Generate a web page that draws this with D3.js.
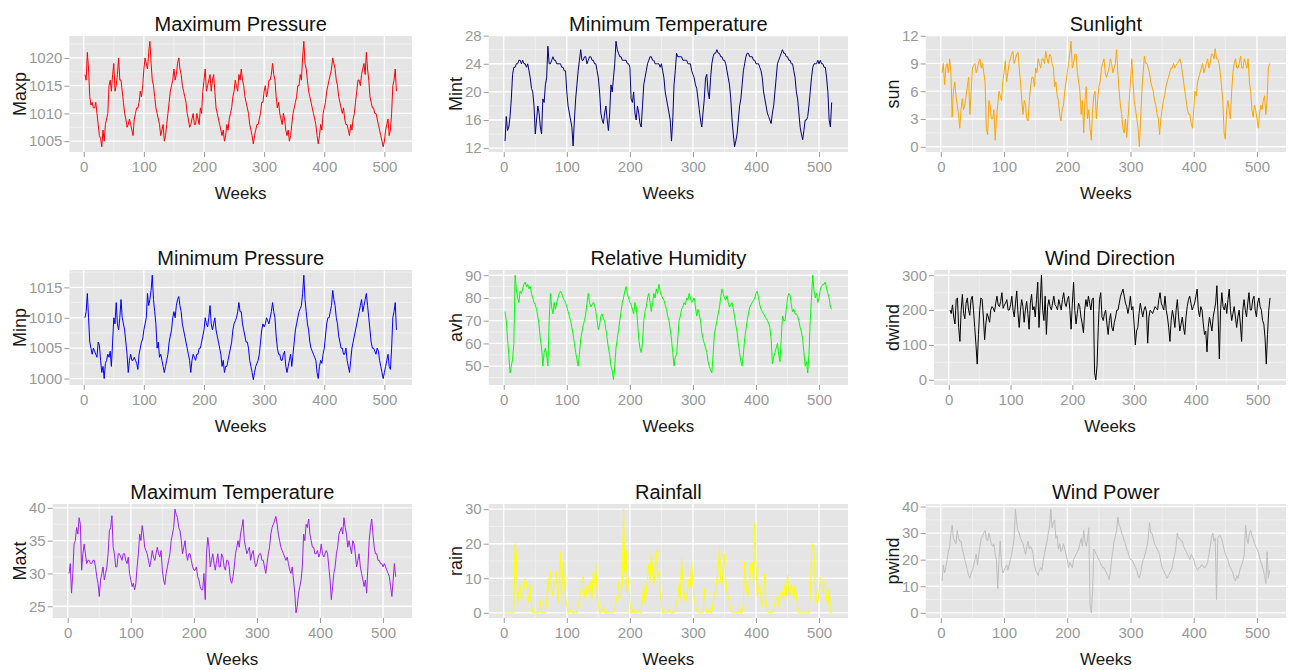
<!DOCTYPE html>
<html>
<head>
<meta charset="utf-8">
<script src="https://cdn.jsdelivr.net/npm/d3@7"></script>
<style>
body { margin: 0; background: #ffffff; }
text { font-family: "Liberation Sans", Arial, sans-serif; }
</style>
</head>
<body>
<svg id="chart" width="1292" height="670"></svg>
<script>
// weekly series, read every 2nd week off the picture (weeks 2..520)
var firstWeek = 2, weekStep = 2;

var maxp = [1017,1016,1021,1018,1013,1011.5,1012,1011,1011,1012,1010,1008,1006,1005.5,1004,1007,1005,1008,1009,1010,
	1015,1016,1014,1017,1019,1014,1015,1017,1020,1016,1016,1014,1012,1010,1009,1007.5,1008,1009,1008,1007,
	1006,1009,1010,1011,1011,1012,1014,1013,1015,1018,1020,1019,1018,1021,1023,1019,1016,1015,1013,1011,
	1010,1009,1008,1006,1007,1008,1005,1006,1008,1010,1012,1014,1015,1016,1018,1016,1017,1019,1020,1018,
	1017,1015,1014,1013,1012,1010,1009,1007.5,1008,1009,1010,1008,1008,1010,1009,1008,1011,1010,1014,1016,
	1018,1014,1015,1016,1017,1014,1016,1017,1014,1011,1010,1009,1008,1007,1006,1007,1005,1006,1008,1007,
	1009,1010,1011,1013,1014,1016,1015,1014,1017,1016,1018,1016,1015,1013,1012,1011,1010,1008,1007,1006,
	1004.5,1006,1007,1008,1008,1009,1010,1012,1012,1014,1015,1013,1014,1016,1016,1017,1019,1017,1016,1013,
	1011,1012,1010,1009,1008,1010,1009,1007,1006,1007,1005,1006,1008,1010,1011,1012,1013,1015,1015,1017,
	1016,1020,1023,1019,1018,1016,1014,1013,1012,1011,1010,1009,1008,1006,1004.5,1006,1008,1007,1010,1011,
	1012,1014,1015,1016,1017,1018,1020,1019,1018,1016,1015,1013,1012,1011,1010,1011,1009,1008,1008,1007,
	1006,1008,1007,1009,1010,1012,1014,1016,1016,1015,1017,1018,1019,1017,1021,1018,1016,1013,1012,1011,
	1011,1010,1010,1009,1008,1007,1006,1005,1004,1005,1007,1008,1009,1006,1007,1010,1015,1016,1018,1014];

var mint = [13,16.5,14.5,15,16.5,19,22.5,23.5,23.5,24,24,24.5,24.5,24,24.5,24,24,23.5,24,23,
	22,20.5,20,18,14,16,18,17,15,14,19,18.5,21,22,26.5,24,24,24.5,25,24.5,
	24.5,24,24,24,24,23.5,23.5,23,23,20,18,17,16,15,12.3,16,19,21,23,24.5,
	26,24.5,24.5,25,25,24,24.5,25,25,24.5,24.5,24,24,23,22,20,17,16,15.5,17,
	18,16,14.5,17,21,20,22,24,27.2,26,25.5,25,25,24.5,24.5,24.5,24.5,24,24,23.5,
	19,18.5,20,17,16,18,17,15.5,15,18,21,22,23,24,24.5,25,25,24.5,24.5,24,
	24,24,24,23.5,24,23,22,20,19,18,17,16,13,16,21,23,25.5,25,25,25,
	25,24.5,24.5,24.5,24.5,24,24,24,23,22.5,22,21,20.5,19,17.5,16,15,17,19,22,
	22.5,20,19,22,24,25,25.5,25.5,26,25.5,25.5,25,25,24.5,24.5,24,23,22,21,19,
	16,14,12.2,13,14,16,18,19,21,23,24,25,25.5,25.5,25,25,25,24.5,24.5,24,
	24,24,23.5,23,22,20,19,18,17,16.5,16,15.5,17,18,20,22,24,24.5,25,25.5,
	26,25.5,25.5,25,25,24.5,24.5,24,24,23,22,20,19,17,15,14,13.2,14.5,16,16,
	16.5,18,20,22,23.5,24,24,24,24.5,24,24.5,24,24,23.5,23.5,22,20,16,15,18.5];

var sun = [8,9,6.7,8.5,9,8,9.5,8,3.2,6,7,5.5,4.5,3.5,2,4,5.2,4,4.5,5.5,
	6.5,7.5,3.5,6,8.5,8.8,9,8,8.5,9.2,9.5,8.5,9,8,7,2,1.3,5,4.5,3,
	3,4,0.7,3,4.5,6,5.5,5,7,8,9.3,7,8,9,9.5,10,10.3,9,9.5,10,
	10.2,8.5,7,5,3.5,5,4.5,3,2.8,5,6.5,7.5,7.5,6.5,8.5,8,9.5,9,8.5,9.5,
	9.5,9,10.3,9.5,9,10,9.8,9,8.5,6.5,7,5.5,5,3.5,2.8,4,4.5,6,7,8,
	9,10,11.4,8.5,9,10,10,8,7,6,3.5,5,1.5,5,6.5,3,4,2,0.7,4,
	5.5,6,3,5,6.5,7,8.5,9,9.5,8,7.5,8,8.5,9.5,9,8,8.5,9,10.5,8,
	6,4.5,3.5,2,1.5,3,1,3,5,7,9.5,7,5,4,3,2,0,3,6,8,
	9.8,9,9,8.5,8,7,6.5,6,5,4.5,3.5,3,1.3,3,4,5,5.5,6.5,7,7.5,
	8,8.5,8.5,9,8.5,8.8,9,9.2,9.5,9,8,7,6,5,4,3.5,3.5,2.5,2,4,
	6,5.5,7,7.5,8,8.5,9,8,8.5,9,9.5,8.5,9,10,10,9.5,10.6,9.5,9.5,9,
	8,6.5,5,1.5,0.8,4,5,4,3,6,8,9,9.5,8.5,8.5,9,9.8,8.5,8.5,9.5,
	9,8.5,9.5,7,6,4,3.2,4.5,4,3,2,3.5,4.5,4,5,5.5,3.5,5,8.5,9];

var minp = [1010,1011,1014,1010,1006,1005,1004,1005,1004.5,1004,1003.5,1006,1005.5,1003,1001,1002,1000,1002.5,1003,1004,
	1003.5,1004.5,1002,1006,1010,1009,1012.5,1009,1008,1010,1013,1010,1009,1008,1006,1004,1001,1003,1004,1003,
	1003,1003.5,1003,1002.5,1001.5,1004,1005,1006,1006.5,1008,1009,1010,1014,1012,1013,1014.5,1017,1013,1011,1009,
	1005,1006,1003.5,1004,1003,1002,1001,1002,1003,1004,1006,1007,1008,1010,1011,1010,1012,1013,1013.5,1012,
	1011,1009,1008,1007,1006,1005,1004,1003,1001,1003,1004,1003.5,1003,1004,1004,1005,1005,1006,1007,1008,
	1010,1009,1008.5,1010,1012,1009,1008,1009,1010,1008,1007,1006,1005,1004,1002,1003,1001,1002,1002,1003,
	1004,1005,1006,1008,1009,1009.5,1010,1011,1012.5,1011,1011,1009,1008,1007,1006,1006,1005,1003,1002,1001,
	999.8,1001,1002,1002.5,1003,1004,1006,1008,1009,1008.5,1009,1010,1009.5,1009,1010,1011,1012.5,1011,1010,1007,
	1005,1004,1004,1003,1003,1004,1004.5,1002,1001,1002,1003,1004,1002,1004,1006,1008,1009,1010,1011,1011.5,
	1012,1014,1017,1013,1011,1009,1008,1006,1005,1004.5,1004,1003.5,1003,1001,1000,1002,1003,1002.5,1004,1005,
	1007,1009,1010,1010,1011,1012,1014.5,1013,1012,1010,1009,1007,1006,1005,1005,1004,1004,1005,1003,1002,
	1001,1003,1005,1006,1007,1008,1009,1010,1011,1012,1013,1011,1012,1013,1014,1012,1010,1008,1006,1005,
	1005,1004.5,1004,1005,1004.5,1003,1002,1001,1000,1001,1002,1003,1004,1002,1001.5,1005,1010,1011,1012.5,1008];

var avh = [74,70,62,55,47,50,53,60,90,84,80,78,83,82,84,86,87,85,86,84,
	85,82,80,78,77,75,72,68,62,58,50,56,58,55,50,70,82,76,73,78,
	75,78,80,82,83,82,80,79,78,76,74,72,70,67,64,60,56,53,50,55,
	62,65,68,70,73,78,82,78,76,77,78,77,74,70,66,68,72,73,71,70,
	66,62,58,55,50,48,44,50,58,62,66,70,74,78,80,83,85,82,80,78,
	77,75,73,78,76,70,62,58,56,60,70,74,76,80,82,78,74,78,82,80,
	84,82,86,83,81,80,79,77,75,72,70,66,62,56,50,54,55,62,70,72,
	75,76,78,77,80,79,82,80,78,79,80,76,72,75,73,70,65,62,60,58,
	56,52,50,48,47,55,64,67,70,73,76,80,84,82,80,79,81,78,76,77,
	78,75,72,68,65,60,56,52,50,55,62,66,70,73,76,77,78,79,80,82,
	83,80,77,75,74,73,72,71,70,69,67,62,51,54,56,58,60,55,52,62,
	72,70,70,75,80,82,81,77,74,75,73,73,72,70,67,65,62,56,50,52,
	47,55,70,80,90,83,80,82,78,80,84,85,86,86,87,84,82,80,76,75];

var dwind = [200,190,215,180,160,230,235,150,110,200,245,190,175,220,235,200,185,230,240,200,
	150,100,45,130,200,235,230,180,115,160,190,180,165,200,210,205,195,220,240,215,
	210,225,250,205,215,220,230,200,200,215,240,200,180,220,255,190,150,200,230,210,
	165,200,225,190,145,220,245,200,210,180,230,280,150,220,300,200,170,240,130,210,
	230,210,200,220,240,215,210,200,230,215,200,230,250,220,210,230,240,200,145,220,
	280,200,160,190,220,210,180,160,135,200,230,210,240,220,200,230,235,20,0,40,
	150,230,250,180,170,190,200,160,130,170,190,150,140,165,180,200,200,220,240,250,
	260,240,220,210,190,210,240,200,210,160,100,140,150,190,220,200,180,200,210,195,
	105,180,200,195,190,200,210,205,200,230,250,220,210,200,240,200,180,150,110,170,
	200,180,150,200,230,180,140,160,180,150,130,180,210,230,240,220,200,210,220,240,
	260,200,180,210,200,160,130,140,80,150,180,160,140,180,200,220,270,180,60,200,
	250,210,200,220,190,230,260,200,170,190,210,180,150,180,200,160,110,200,230,200,
	180,220,250,200,200,230,240,200,180,220,235,210,200,170,160,120,45,130,200,235];

var maxt = [30,31.5,27,30,34.5,35,37,36,38.5,37.5,30.5,33,34.5,33,31.5,32,32,31.5,31.5,32,
	32,31,29.5,28.5,26.5,29,30,31,29,30,31,33,36.5,37,38.8,34,33,31,31,33,
	33,32.5,32,33,33,32,31.5,32.5,30,29,28,28.5,27.5,28.5,31,33,36,35,37.3,36,
	34,33.5,33,32,31,32,33.5,32.5,32,33,34,33,32.5,33.5,30.5,29,28.3,30,31,32,
	33,35,36,37,39.8,39,38.5,37,36.5,35,33,34,35,33,32,33,33,32,31,30.5,
	30.5,31,29.5,29,28,27.5,27.5,30,26,33,35.5,34,31,32,33,31.5,30.5,32,33,31,
	31,33,32.5,31,30.5,32,32,31,29,28.5,29.5,31,33,34,35,34,36,37,38.2,35,
	34,33,33.5,34,32,33,33.5,32,31,31.5,32.5,33,33,32,32,31,30,31.5,33,34,
	36,37,37.5,38,38.7,37.5,36,35,34,33.5,33,32.5,32,32.5,31.5,30.5,30,31,29,27,
	24,25,27,28,29,31,36,35,37.5,37,38.3,36,35,34,34,33,33,33.5,32.5,33,
	34.5,33,32.5,33,33.5,33,31,29,26,28,30,31,33,34,36,36.5,37,36,38.5,37,
	36,34,35,34,33,35,34.5,33,31,32,33,31,30,29,28,29,27,31,35,37,
	38.3,36,34,33,33,32,32,31.5,31.5,31,31.5,31,30.5,30,29.5,28,26.5,29,31.5,29.5];

var rain = [0,0,0,0,0,0,0,0,20,17,3,6,8,4,4,7,10,8,6,3,
	8,2,0,0,0,0,0,0,3.5,0,0,0,0,3,10,6,12,7,5,9,
	8,12,3,9,17.5,5,15,9,5,2,0,0,1,0,0,0,0,0,2,4,
	6,9,10.5,5,4,7,8,5,9,4,12,8,14,6,2,0,0,1,2,0,
	0,0,0,0,0,0,0,1,3,5,9,4,5,8,30,12,18,6,10,3,
	0,0,1,0,0,0,1,0,0,4,8,3,6,10,14,9,17,13,8,12,
	18,10,12,6,3,0,0,0,0,0,1,0,0,0,0,1,3,5,8,4,
	16,9,6,3,4,7,10,8,15,8,4,2,1,0,0,0,0,0,7,2,
	0,0,1,0,0,3,5,7,10,12,19.5,9,8,12,17,10,6,5,3,1,
	0,0,0,0,0,0,1,0,0,3,15,9,6,5,9,14,15,8,26,14,
	5,7,8,4,2,5,11.5,3,1,0,0,0,0,1,3,4,5,2,4,6,
	6,4,8,5,11,7,5,8,7,4,8,5,2,0,0,0,0,0,0,0,
	0,0,5,17,20,18,8,3,3,6,10,8,6,9,8,4,2,7,0,0];

var pwind = [12,18,15,17,20,23,25,30,33,28,27,26,31,28,27,27,24,22,20,18,
	16,14,13,15,16,18,20,22,18,22,25,28,29,30,31,28,27,30,28,26,
	25,26,22,20,9,20,27,18,15,16,17,18,16,18,20,22,25,28,39,34,
	31,30,28,27,26,24,22,25,27,24,25,24,22,18,16,15,14,16,17,16,
	20,22,25,27,30,33,39,32,34,35,28,29,24,26,23,24,26,24,22,20,
	17,19,18,17,20,21,22,23,24,26,28,25,31,27,25,28,32,3,0,8,
	24,23,22,21,20,19,18,17,17,16,15,14,12.5,15,20,23,27,29,31,36,
	33,32,30,29,27,26,24,23,21,20,20,19,18,17,16,14,13,15,18,20,
	21,23,25,28,34,30,30,28,26,25,24,23,22,19,17,16,15,14,13,14,
	15,16,17,20,22,25,30,28,28,27,27,25,24,23,22,21,20,22,21,20,
	18,17,16,17,17,18,18,17,17,18,19,22,25,28,30,27,28,5,28,29,
	29,28,26,24,22,21,20,18,17,16,15,13,12,14,13,15,17,18,20,22,
	33,28,26,30,31,29,28,26,25,24,23,21,19,18,16,14,11,23,13,16];

var weekTicks = [0, 100, 200, 300, 400, 500];
var maxpTicks = [1005, 1010, 1015, 1020];
var mintTicks = [12, 16, 20, 24, 28];
var sunTicks = [0, 3, 6, 9, 12];
var minpTicks = [1000, 1005, 1010, 1015];
var avhTicks = [50, 60, 70, 80, 90];
var dwindTicks = [0, 100, 200, 300];
var maxtTicks = [25, 30, 35, 40];
var rainTicks = [0, 10, 20, 30];
var pwindTicks = [0, 10, 20, 30, 40];

var weeks = maxp.map(function(d, i) { return firstWeek + i * weekStep; });

var panels = [
	{title: "Maximum Pressure", label: "Maxp", values: maxp, ticks: maxpTicks, color: "#ff0000"},
	{title: "Minimum Temperature", label: "Mint", values: mint, ticks: mintTicks, color: "#000080"},
	{title: "Sunlight", label: "sun", values: sun, ticks: sunTicks, color: "#ffa500"},
	{title: "Minimum Pressure", label: "Minp", values: minp, ticks: minpTicks, color: "#0000ff"},
	{title: "Relative Humidity", label: "avh", values: avh, ticks: avhTicks, color: "#00ff00"},
	{title: "Wind Direction", label: "dwind", values: dwind, ticks: dwindTicks, color: "#000000"},
	{title: "Maximum Temperature", label: "Maxt", values: maxt, ticks: maxtTicks, color: "#a020f0"},
	{title: "Rainfall", label: "rain", values: rain, ticks: rainTicks, color: "#ffff00"},
	{title: "Wind Power", label: "pwind", values: pwind, ticks: pwindTicks, color: "#bebebe"}
];

// grid of cells: y title centre, panel right edge, panel top/bottom
var colTitleX = [20, 456, 893];
var colRight = [412, 848, 1286];
var rowTop = [36, 270, 504];
var rowBottom = [152, 385, 618];

var svg = d3.select("#chart");
var fmt = d3.format("d");

// ggplot style 5% expansion of the data range
function expand(ext)
{
	var pad = (ext[1] - ext[0]) * 0.05;
	return [ext[0] - pad, ext[1] + pad];
}

// minor breaks halfway between major ones, one step past each end if it fits
function minors(ticks, domain)
{
	var step = ticks[1] - ticks[0];
	var out = [];
	for (var i = -1; i < ticks.length; i++)
	{
		var m = ticks[0] + step * (i + 0.5);
		if (m > domain[0] && m < domain[1]) out.push(m);
	}
	return out;
}

function tickWidth(labels)
{
	var probe = svg.append("text").style("font-size", "15px");
	var w = 0;
	labels.forEach(function(l)
	{
		probe.text(fmt(l));
		w = Math.max(w, probe.node().getComputedTextLength());
	});
	probe.remove();
	return w;
}

var xDomain = expand(d3.extent(weeks));

panels.forEach(function(p, k)
{
	var col = k % 3, row = Math.floor(k / 3);
	var left = colTitleX[col] + 9 + tickWidth(p.ticks) + 7;
	var right = colRight[col], top = rowTop[row], bottom = rowBottom[row];

	var x = d3.scaleLinear().domain(xDomain).range([left, right]);
	var y = d3.scaleLinear().domain(expand(d3.extent(p.values))).range([bottom, top]);

	var g = svg.append("g");

	g.append("rect")
		.attr("x", left).attr("y", top)
		.attr("width", right - left).attr("height", bottom - top)
		.attr("fill", "#e5e5e5");

	// minor grid
	g.selectAll(".xminor").data(minors(weekTicks, xDomain)).enter().append("line")
		.attr("x1", function(d) { return x(d); }).attr("x2", function(d) { return x(d); })
		.attr("y1", top).attr("y2", bottom)
		.attr("stroke", "#f2f2f2").attr("stroke-width", 0.8);
	g.selectAll(".yminor").data(minors(p.ticks, y.domain())).enter().append("line")
		.attr("x1", left).attr("x2", right)
		.attr("y1", function(d) { return y(d); }).attr("y2", function(d) { return y(d); })
		.attr("stroke", "#f2f2f2").attr("stroke-width", 0.8);

	// major grid
	g.selectAll(".xmajor").data(weekTicks).enter().append("line")
		.attr("x1", function(d) { return x(d); }).attr("x2", function(d) { return x(d); })
		.attr("y1", top).attr("y2", bottom)
		.attr("stroke", "#ffffff").attr("stroke-width", 1.3);
	g.selectAll(".ymajor").data(p.ticks).enter().append("line")
		.attr("x1", left).attr("x2", right)
		.attr("y1", function(d) { return y(d); }).attr("y2", function(d) { return y(d); })
		.attr("stroke", "#ffffff").attr("stroke-width", 1.3);

	var line = d3.line()
		.x(function(d, i) { return x(weeks[i]); })
		.y(function(d) { return y(d); });

	g.append("path")
		.datum(p.values)
		.attr("d", line)
		.attr("fill", "none")
		.attr("stroke", p.color)
		.attr("stroke-width", 1)
		.attr("stroke-linejoin", "round");

	// axes
	var xAxis = d3.axisBottom(x).tickValues(weekTicks).tickFormat(fmt).tickSize(5).tickPadding(4);
	var yAxis = d3.axisLeft(y).tickValues(p.ticks).tickFormat(fmt).tickSize(5).tickPadding(2);

	var xa = g.append("g").attr("transform", "translate(0," + bottom + ")").call(xAxis);
	var ya = g.append("g").attr("transform", "translate(" + left + ",0)").call(yAxis);
	[xa, ya].forEach(function(a)
	{
		a.select(".domain").remove();
		a.selectAll(".tick line").attr("stroke", "#9a9a9a");
		a.selectAll(".tick text")
			.attr("fill", "#999999")
			.style("font-size", "15px")
			.style("font-family", "'Liberation Sans', Arial, sans-serif");
	});

	var mid = (left + right) / 2;

	g.append("text")
		.attr("x", mid).attr("y", top - 5)
		.attr("text-anchor", "middle")
		.style("font-size", "20px")
		.attr("fill", "#111111")
		.text(p.title);

	g.append("text")
		.attr("x", mid).attr("y", bottom + 47)
		.attr("text-anchor", "middle")
		.style("font-size", "17px")
		.attr("fill", "#1a1a1a")
		.text("Weeks");

	g.append("text")
		.attr("transform", "translate(" + colTitleX[col] + "," + ((top + bottom) / 2) + ") rotate(-90)")
		.attr("dy", "0.35em")
		.attr("text-anchor", "middle")
		.style("font-size", "18px")
		.attr("fill", "#1a1a1a")
		.text(p.label);
});
</script>
</body>
</html>
